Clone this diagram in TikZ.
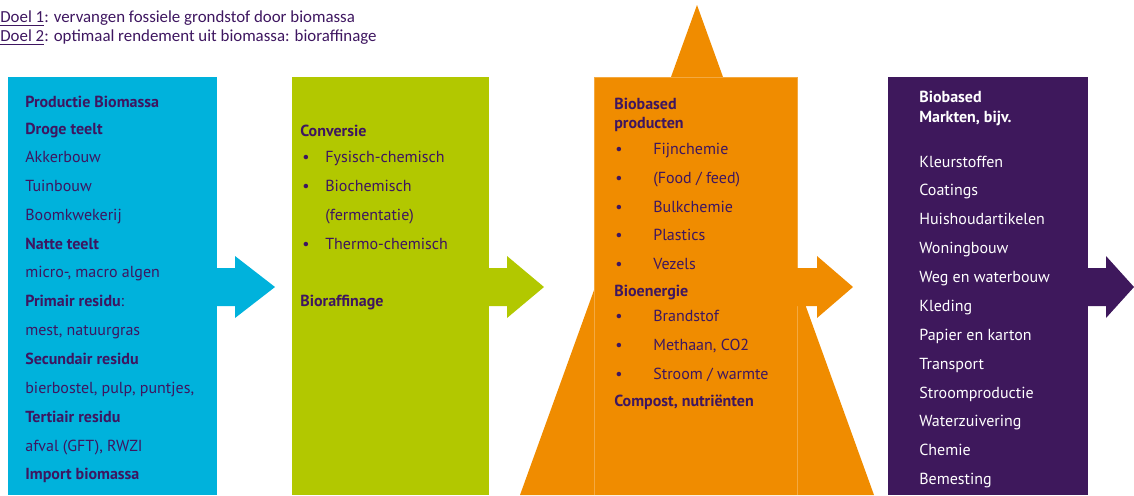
\documentclass[tikz,border=0pt]{standalone}
\usepackage{fontspec}
\setmainfont{PT Sans}
\newfontfamily\goalfont{Carlito}
\definecolor{bbblue}{RGB}{0,178,220}
\definecolor{bbgreen}{RGB}{178,200,0}
\definecolor{bborange}{RGB}{240,140,0}
\definecolor{bbpurple}{RGB}{62,24,92}
\definecolor{bbtext}{RGB}{62,22,96}
\tikzset{
  item/.style={anchor=mid west, inner sep=0pt, text=bbtext, font=\fontsize{9.1}{11}\selectfont},
  head/.style={item, font=\fontsize{9.1}{11}\selectfont\bfseries},
  goal/.style={anchor=mid west, inner sep=0pt, text=bbtext, font=\goalfont\fontsize{9.6}{11}\selectfont}
}

\begin{document}
\begin{tikzpicture}[x=0.2mm,y=-0.2mm]
\useasboundingbox (0,0) rectangle (1134,495);
% goals
\node[goal] (doel1) at (0,18) {\underline{Doel 1}: vervangen fossiele grondstof door biomassa};
\node[goal] (doel2) at (0,37) {\underline{Doel 2}: optimaal rendement uit biomassa: bioraffinage};
% triangle behind the products
\fill[bborange] (697,5) -- (874,495) -- (520,495) -- cycle;
% columns
\foreach \xl/\xr/\col in {8/217/bbblue, 292/489/bbgreen, 594/797/bborange, 888/1088/bbpurple}
  \fill[\col] (\xl,77) rectangle (\xr,495);
\draw[bborange!75!white, line width=0.2pt] (594,495) -- (594,77) -- (797,77) -- (797,495);
% arrows
\foreach \xa/\xb/\xc/\col in {216/235/275/bbblue, 488/507/544/bbgreen, 796/817/853/bborange, 1087/1106/1134/bbpurple}
  \fill[\col] (\xa,268) -- (\xb,268) -- (\xb,256) -- (\xc,287) -- (\xb,318) -- (\xb,306) -- (\xa,306) -- cycle;

% productie
\foreach \y/\t [count=\i] in {103/{\textbf{Productie Biomassa}}, 130/{\textbf{Droge teelt}},
  158/Akkerbouw, 187/Tuinbouw, 216/Boomkwekerij, 245/{\textbf{Natte teelt}},
  273/{micro-, macro algen}, 302/{\textbf{Primair residu}:}, 331/{mest, natuurgras},
  360/{\textbf{Secundair residu}}, 389/{bierbostel, pulp, puntjes,},
  418/{\textbf{Tertiair residu}}, 447/{afval (GFT), RWZI}, 475/{\textbf{Import biomassa}}}
  \node[item] (prod\i) at (25,\y) {\t};

% conversie
\node[head] (conv) at (300,132) {Conversie};
\foreach \y/\t [count=\i] in {158/Fysisch-chemisch, 187/Biochemisch, 245/Thermo-chemisch} {
  \node[item] (convdot\i) at (302,\y) {•};
  \node[item] (conv\i) at (325,\y) {\t};
}
\node[item] (ferm) at (325,216) {(fermentatie)};
\node[head] (raff) at (300,302) {Bioraffinage};

% producten
\node[head] (prodhead1) at (614,105) {Biobased};
\node[head] (prodhead2) at (614,124) {producten};
\foreach \y/\t [count=\i] in {150/Fijnchemie, 179/{(Food / feed)}, 208/Bulkchemie, 236/Plastics,
  265/Vezels, 317/Brandstof, 346/{Methaan, CO2}, 375/{Stroom / warmte}} {
  \node[item] (bpdot\i) at (615,\y) {•};
  \node[item] (bp\i) at (653,\y) {\t};
}
\node[head] (energie) at (614,292) {Bioenergie};
\node[head] (compost) at (614,402) {Compost, nutriënten};

% markten
\node[head, text=white] (markhead1) at (919,98) {Biobased};
\node[head, text=white] (markhead2) at (919,118) {Markten, bijv.};
\foreach \y/\t [count=\i] in {163/Kleurstoffen, 191/Coatings, 220/Huishoudartikelen, 249/Woningbouw,
  278/Weg en waterbouw, 307/Kleding, 336/Papier en karton, 365/Transport, 394/Stroomproductie,
  422/Waterzuivering, 451/Chemie, 480/Bemesting}
  \node[item, text=white] (mark\i) at (919,\y) {\t};
\end{tikzpicture}
\end{document}
